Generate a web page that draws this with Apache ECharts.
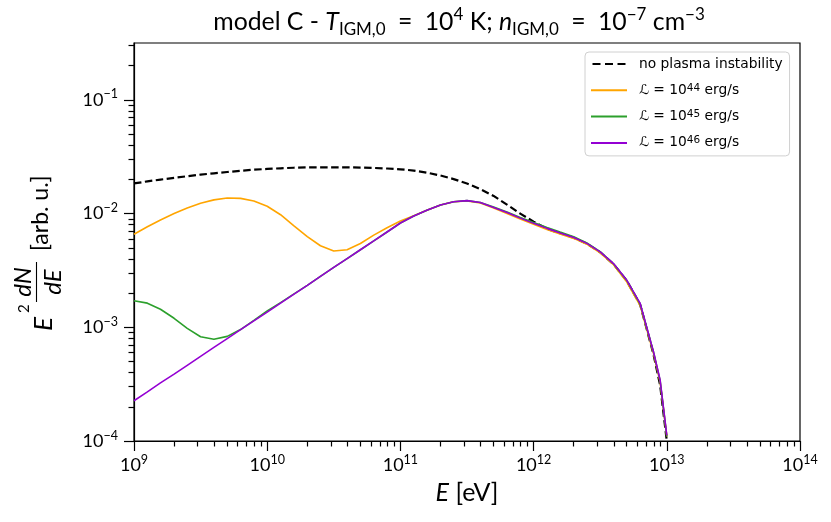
<!DOCTYPE html>
<html>
<head>
<meta charset="utf-8">
<title>model C</title>
<script src="https://cdn.jsdelivr.net/npm/echarts@6.0.0/dist/echarts.min.js"></script>
<style>
	html,body{margin:0;padding:0;background:#fff;}
	#mychart{width:831px;height:522px;}
</style>
</head>
<body>
<div id="mychart"></div>
<script>
// 能量 E [eV]
var energy = [
	1.00e9, 1.26e9, 1.58e9, 2.00e9, 2.51e9, 3.16e9, 3.98e9, 5.01e9, 6.31e9, 7.94e9,
	1.00e10, 1.26e10, 1.58e10, 2.00e10, 2.51e10, 3.16e10, 3.98e10, 5.01e10, 6.31e10, 7.94e10,
	1.00e11, 1.26e11, 1.58e11, 2.00e11, 2.51e11, 3.16e11, 3.98e11, 5.01e11, 6.31e11, 7.94e11,
	1.00e12, 1.26e12, 1.58e12, 2.00e12, 2.51e12, 3.16e12, 3.98e12, 5.01e12, 6.31e12, 7.94e12,
	8.91e12, 1.00e13
];
// 无等离子体不稳定性
var noInstability = [
	1.84e-2, 1.92e-2, 1.99e-2, 2.06e-2, 2.13e-2, 2.20e-2, 2.26e-2, 2.32e-2, 2.38e-2, 2.43e-2,
	2.47e-2, 2.50e-2, 2.53e-2, 2.55e-2, 2.55e-2, 2.55e-2, 2.55e-2, 2.54e-2, 2.52e-2, 2.49e-2,
	2.45e-2, 2.39e-2, 2.29e-2, 2.16e-2, 2.01e-2, 1.84e-2, 1.64e-2, 1.43e-2, 1.20e-2, 1.00e-2,
	8.49e-3, 7.33e-3, 6.73e-3, 6.14e-3, 5.43e-3, 4.57e-3, 3.59e-3, 2.56e-3, 1.58e-3, 5.80e-4,
	3.10e-4, 1.00e-4
];
// L = 1e44 erg/s
var lum44 = [
	6.58e-3, 7.66e-3, 8.79e-3, 1.00e-2, 1.12e-2, 1.23e-2, 1.32e-2, 1.37e-2, 1.36e-2, 1.29e-2,
	1.16e-2, 9.77e-3, 7.85e-3, 6.27e-3, 5.21e-3, 4.68e-3, 4.81e-3, 5.46e-3, 6.46e-3, 7.50e-3,
	8.61e-3, 9.59e-3, 1.07e-2, 1.19e-2, 1.27e-2, 1.29e-2, 1.24e-2, 1.12e-2, 1.00e-2, 8.95e-3,
	8.05e-3, 7.25e-3, 6.62e-3, 6.05e-3, 5.38e-3, 4.52e-3, 3.55e-3, 2.50e-3, 1.55e-3, 5.90e-4,
	3.30e-4, 1.10e-4
];
// L = 1e45 erg/s
var lum45 = [
	1.71e-3, 1.63e-3, 1.44e-3, 1.20e-3, 9.79e-4, 8.26e-4, 7.85e-4, 8.32e-4, 9.55e-4, 1.15e-3,
	1.39e-3, 1.65e-3, 1.96e-3, 2.34e-3, 2.80e-3, 3.36e-3, 4.02e-3, 4.81e-3, 5.75e-3, 6.89e-3,
	8.26e-3, 9.51e-3, 1.07e-2, 1.19e-2, 1.27e-2, 1.30e-2, 1.25e-2, 1.14e-2, 1.03e-2, 9.25e-3,
	8.35e-3, 7.55e-3, 6.88e-3, 6.25e-3, 5.52e-3, 4.62e-3, 3.62e-3, 2.58e-3, 1.60e-3, 6.10e-4,
	3.40e-4, 1.10e-4
];
// L = 1e46 erg/s
var lum46 = [
	2.26e-4, 2.70e-4, 3.24e-4, 3.87e-4, 4.63e-4, 5.55e-4, 6.65e-4, 7.96e-4, 9.53e-4, 1.14e-3,
	1.36e-3, 1.63e-3, 1.95e-3, 2.34e-3, 2.80e-3, 3.36e-3, 4.02e-3, 4.81e-3, 5.75e-3, 6.89e-3,
	8.26e-3, 9.51e-3, 1.07e-2, 1.19e-2, 1.27e-2, 1.30e-2, 1.25e-2, 1.13e-2, 1.02e-2, 9.12e-3,
	8.20e-3, 7.41e-3, 6.76e-3, 6.17e-3, 5.47e-3, 4.61e-3, 3.63e-3, 2.59e-3, 1.62e-3, 6.10e-4,
	3.44e-4, 1.12e-4
];

var seriesNames = ['no plasma instability', 'L44', 'L45', 'L46'];
var lumExp = {L44: '44', L45: '45', L46: '46'};
var xMajorTicks = [1e9, 1e10, 1e11, 1e12, 1e13, 1e14];
var yMajorTicks = [1e-4, 1e-3, 1e-2, 1e-1];

var mathFont = 'Lato';
var yMax = Math.pow(10, -0.5);
var solidIcon = 'path://M0,0h36v2h-36z';
var dashIcon = 'path://M0,0h8v2h-8z M12.5,0h8v2h-8z M25,0h8v2h-8z';

//对数次刻度 2..9
function minorTicks(lo, hi, top){
	var arr = [];
	for (var d = lo; d < hi; d++) {
		for (var m = 2; m < 10; m++) {
			var v = m * Math.pow(10, d);
			if (v < top) arr.push(v);
		}
	}
	return arr;
}

function pairs(ys){
	return energy.map(function(e, i){ return [e, ys[i]]; });
}

function expLabel(v){
	var p = Math.round(Math.log10(v));
	if (Math.abs(Math.log10(v) - p) > 1e-6) return '';
	return '{b|10}{s|' + String(p).replace('-', '\u2212') + '}';
}

var tickRich = {
	b: {fontFamily: mathFont, fontSize: 18, lineHeight: 24, color: '#000'},
	s: {fontFamily: mathFont, fontSize: 12.5, lineHeight: 13, verticalAlign: 'top', color: '#000'}
};
var blackLine = {color: '#000', width: 1.2};
var sp = '\u2002';

var myChart = echarts.init(document.getElementById('mychart'));
var option = {
	animation: false,
	backgroundColor: '#fff',
	title: {
		text: 'model C - {i|T}{sub|IGM,0}' + sp + '=' + sp + '10{sup|4} K; {i|n}{sub|IGM,0}' + sp + '=' + sp + '10{sup|\u22127} cm{sup|\u22123}',
		left: 454,
		top: 1,
		textAlign: 'center',
		textStyle: {
			fontFamily: mathFont, fontSize: 24.8, fontWeight: 'normal', color: '#000', lineHeight: 32,
			rich: {
				i: {fontFamily: mathFont, fontSize: 24.8, fontStyle: 'italic', lineHeight: 32, color: '#000'},
				sub: {fontFamily: mathFont, fontSize: 17, lineHeight: 15, verticalAlign: 'bottom', color: '#000'},
				sup: {fontFamily: mathFont, fontSize: 17, lineHeight: 15, verticalAlign: 'top', color: '#000'}
			}
		}
	},
	legend: {
		orient: 'vertical',
		left: 585,
		top: 52,
		data: [
			{name: seriesNames[0], icon: dashIcon},
			{name: seriesNames[1], icon: solidIcon},
			{name: seriesNames[2], icon: solidIcon},
			{name: seriesNames[3], icon: solidIcon}
		],
		itemWidth: 36,
		itemHeight: 2,
		itemGap: 10.3,
		padding: [4, 7, 5, 6],
		backgroundColor: '#fff',
		borderColor: '#d0d0d0',
		borderWidth: 1,
		borderRadius: 4,
		formatter: function(name){
			if (lumExp[name]) return '\u2112 = 10{s|' + lumExp[name] + '} erg/s';
			return name;
		},
		textStyle: {
			fontFamily: 'DejaVu Sans', fontSize: 13.8, color: '#000', padding: [0, 0, 0, 7], lineHeight: 16,
			rich: {
				s: {fontFamily: 'DejaVu Sans', fontSize: 10.5, lineHeight: 9, verticalAlign: 'top', color: '#000'}
			}
		}
	},
	grid: {
		left: 134, right: 31, top: 43, bottom: 81,
		show: true, borderColor: '#000', borderWidth: 1.2,
		outerBoundsMode: 'none'
	},
	xAxis: [{
		type: 'log', logBase: 10, min: 1e9, max: 1e14, position: 'bottom',
		axisLine: {show: true, onZero: false, lineStyle: blackLine},
		axisTick: {show: true, customValues: xMajorTicks, length: 10, lineStyle: blackLine},
		axisLabel: {customValues: xMajorTicks, formatter: expLabel, margin: 12, rich: tickRich},
		splitLine: {show: false},
		name: '{i|E} [eV]',
		nameLocation: 'middle',
		nameGap: 39,
		nameTextStyle: {
			fontFamily: mathFont, fontSize: 25, color: '#000',
			rich: {i: {fontFamily: mathFont, fontSize: 25, fontStyle: 'italic', color: '#000'}}
		}
	}, {
		//次刻度
		type: 'log', logBase: 10, min: 1e9, max: 1e14, position: 'bottom',
		axisLine: {show: false},
		axisTick: {show: true, customValues: minorTicks(9, 14, 1e14), length: 5.5, lineStyle: blackLine},
		axisLabel: {show: false},
		splitLine: {show: false}
	}],
	yAxis: [{
		type: 'log', logBase: 10, min: 1e-4, max: yMax, position: 'left',
		axisLine: {show: true, onZero: false, lineStyle: blackLine},
		axisTick: {show: true, customValues: yMajorTicks, length: 10, lineStyle: blackLine},
		axisLabel: {customValues: yMajorTicks, formatter: expLabel, margin: 16, rich: tickRich},
		splitLine: {show: false}
	}, {
		type: 'log', logBase: 10, min: 1e-4, max: yMax, position: 'left',
		axisLine: {show: false},
		axisTick: {show: true, customValues: minorTicks(-4, 0, yMax), length: 5.5, lineStyle: blackLine},
		axisLabel: {show: false},
		splitLine: {show: false}
	}],
	graphic: [{
		//纵轴标题 E^2 dN/dE [arb. u.]
		type: 'group',
		x: 55,
		y: 331,
		rotation: Math.PI / 2,
		children: [
			{type: 'text', x: 0, y: -11, style: {text: 'E', font: 'italic 26px ' + mathFont, fill: '#000', align: 'left', verticalAlign: 'middle'}},
			{type: 'text', x: 18, y: -31, style: {text: '2', font: '15px ' + mathFont, fill: '#000', align: 'left', verticalAlign: 'middle'}},
			{type: 'text', x: 49, y: -32, style: {text: 'dN', font: 'italic 24px ' + mathFont, fill: '#000', align: 'center', verticalAlign: 'middle'}},
			{type: 'line', shape: {x1: 29, y1: -18.5, x2: 69, y2: -18.5}, style: {stroke: '#000', lineWidth: 1.1}},
			{type: 'text', x: 49, y: -2, style: {text: 'dE', font: 'italic 24px ' + mathFont, fill: '#000', align: 'center', verticalAlign: 'middle'}},
			{type: 'text', x: 80, y: -14, style: {text: '[arb. u.]', font: '23px ' + mathFont, fill: '#000', align: 'left', verticalAlign: 'middle'}}
		]
	}],
	series: [{
		name: seriesNames[0], type: 'line', symbol: 'none', showSymbol: false,
		xAxisIndex: 0, yAxisIndex: 0, z: 2,
		lineStyle: {color: '#000', width: 2.2, type: [7.5, 3.5]},
		itemStyle: {color: '#000'},
		data: pairs(noInstability)
	}, {
		name: seriesNames[1], type: 'line', symbol: 'none', showSymbol: false,
		xAxisIndex: 0, yAxisIndex: 0, z: 3,
		lineStyle: {color: '#ffa500', width: 1.6},
		itemStyle: {color: '#ffa500'},
		data: pairs(lum44)
	}, {
		name: seriesNames[2], type: 'line', symbol: 'none', showSymbol: false,
		xAxisIndex: 0, yAxisIndex: 0, z: 4,
		lineStyle: {color: '#2ca02c', width: 1.6},
		itemStyle: {color: '#2ca02c'},
		data: pairs(lum45)
	}, {
		name: seriesNames[3], type: 'line', symbol: 'none', showSymbol: false,
		xAxisIndex: 0, yAxisIndex: 0, z: 5,
		lineStyle: {color: '#9400d3', width: 1.6},
		itemStyle: {color: '#9400d3'},
		data: pairs(lum46)
	}]
};
myChart.setOption(option);
</script>
</body>
</html>
